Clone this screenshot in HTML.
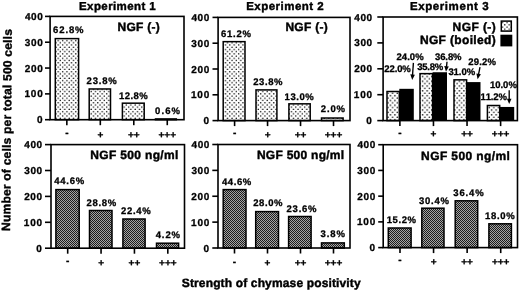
<!DOCTYPE html>
<html><head><meta charset="utf-8"><style>
html,body{margin:0;padding:0;background:#fff;}
svg{display:block;filter:grayscale(1) blur(0.25px);}
text{font-family:"Liberation Sans",sans-serif;font-weight:bold;fill:#000;text-rendering:geometricPrecision;font-kerning:none;stroke:#000;stroke-width:0.3px;}
text.big{stroke-width:0.42px;}
</style></head><body>
<svg width="520" height="291" viewBox="0 0 520 291">
<defs>
<pattern id="dots" patternUnits="userSpaceOnUse" width="4.4" height="4.44" x="2.1" y="1.67">
<rect width="4.4" height="4.44" fill="#fff"/>
<circle cx="1.1" cy="1.1" r="0.75" fill="#000"/><circle cx="3.3" cy="3.32" r="0.75" fill="#000"/>
</pattern>
<pattern id="dots3" patternUnits="userSpaceOnUse" width="4.6" height="4.8" x="0.5" y="0.8">
<rect width="4.6" height="4.8" fill="#fff"/>
<circle cx="1.15" cy="1.2" r="0.8" fill="#000"/><circle cx="3.45" cy="3.6" r="0.8" fill="#000"/>
</pattern>
<pattern id="dots2" patternUnits="userSpaceOnUse" width="4.4" height="4.4" x="501.5" y="21.5">
<rect width="4.4" height="4.4" fill="#fff"/>
<circle cx="1.1" cy="1.1" r="0.75" fill="#000"/><circle cx="3.3" cy="3.3" r="0.75" fill="#000"/>
</pattern>
<pattern id="dark" patternUnits="userSpaceOnUse" width="2" height="2">
<rect width="2" height="2" fill="#a4a4a4"/>
<rect width="1" height="1" fill="#1c1c1c"/><rect x="1" y="1" width="1" height="1" fill="#1c1c1c"/>
</pattern>
</defs>
<rect width="520" height="291" fill="#fff"/>
<rect x="55.30" y="38.61" width="23.30" height="81.09" fill="url(#dots)" stroke="#000" stroke-width="1.5"/>
<rect x="89.20" y="88.97" width="21.30" height="30.73" fill="url(#dots)" stroke="#000" stroke-width="1.5"/>
<rect x="122.40" y="103.17" width="21.80" height="16.53" fill="url(#dots)" stroke="#000" stroke-width="1.5"/>
<rect x="155.50" y="118.93" width="20.80" height="0.77" fill="url(#dots)" stroke="#000" stroke-width="1.5"/>
<rect x="50.10" y="16.40" width="133.90" height="103.30" fill="none" stroke="#000" stroke-width="1.6"/>
<line x1="45.00" y1="119.70" x2="50.10" y2="119.70" stroke="#000" stroke-width="1.6"/>
<line x1="45.00" y1="93.88" x2="50.10" y2="93.88" stroke="#000" stroke-width="1.6"/>
<line x1="45.00" y1="68.05" x2="50.10" y2="68.05" stroke="#000" stroke-width="1.6"/>
<line x1="45.00" y1="42.22" x2="50.10" y2="42.22" stroke="#000" stroke-width="1.6"/>
<line x1="45.00" y1="16.40" x2="50.10" y2="16.40" stroke="#000" stroke-width="1.6"/>
<line x1="66.84" y1="119.70" x2="66.84" y2="125.20" stroke="#000" stroke-width="1.6"/>
<line x1="100.31" y1="119.70" x2="100.31" y2="125.20" stroke="#000" stroke-width="1.6"/>
<line x1="133.79" y1="119.70" x2="133.79" y2="125.20" stroke="#000" stroke-width="1.6"/>
<line x1="167.26" y1="119.70" x2="167.26" y2="125.20" stroke="#000" stroke-width="1.6"/>
<rect x="223.20" y="41.65" width="21.80" height="78.95" fill="url(#dots)" stroke="#000" stroke-width="1.5"/>
<rect x="256.00" y="89.90" width="20.90" height="30.70" fill="url(#dots)" stroke="#000" stroke-width="1.5"/>
<rect x="288.90" y="103.83" width="21.30" height="16.77" fill="url(#dots)" stroke="#000" stroke-width="1.5"/>
<rect x="321.50" y="118.02" width="21.60" height="2.58" fill="url(#dots)" stroke="#000" stroke-width="1.5"/>
<rect x="218.10" y="17.40" width="131.90" height="103.20" fill="none" stroke="#000" stroke-width="1.6"/>
<line x1="212.50" y1="120.60" x2="218.10" y2="120.60" stroke="#000" stroke-width="1.6"/>
<line x1="212.50" y1="94.80" x2="218.10" y2="94.80" stroke="#000" stroke-width="1.6"/>
<line x1="212.50" y1="69.00" x2="218.10" y2="69.00" stroke="#000" stroke-width="1.6"/>
<line x1="212.50" y1="43.20" x2="218.10" y2="43.20" stroke="#000" stroke-width="1.6"/>
<line x1="212.50" y1="17.40" x2="218.10" y2="17.40" stroke="#000" stroke-width="1.6"/>
<line x1="234.59" y1="120.60" x2="234.59" y2="126.10" stroke="#000" stroke-width="1.6"/>
<line x1="267.56" y1="120.60" x2="267.56" y2="126.10" stroke="#000" stroke-width="1.6"/>
<line x1="300.54" y1="120.60" x2="300.54" y2="126.10" stroke="#000" stroke-width="1.6"/>
<line x1="333.51" y1="120.60" x2="333.51" y2="126.10" stroke="#000" stroke-width="1.6"/>
<rect x="387.00" y="91.51" width="12.30" height="29.09" fill="url(#dots3)" stroke="#000" stroke-width="1.5"/>
<rect x="399.30" y="88.82" width="14.50" height="31.78" fill="#000"/>
<rect x="420.00" y="73.64" width="12.60" height="46.96" fill="url(#dots3)" stroke="#000" stroke-width="1.5"/>
<rect x="432.60" y="72.24" width="14.40" height="48.36" fill="#000"/>
<rect x="454.00" y="79.85" width="12.60" height="40.75" fill="url(#dots3)" stroke="#000" stroke-width="1.5"/>
<rect x="466.60" y="82.09" width="13.90" height="38.51" fill="#000"/>
<rect x="487.40" y="105.50" width="12.30" height="15.10" fill="url(#dots3)" stroke="#000" stroke-width="1.5"/>
<rect x="499.70" y="106.95" width="14.50" height="13.65" fill="#000"/>
<rect x="383.10" y="17.00" width="134.30" height="103.60" fill="none" stroke="#000" stroke-width="1.6"/>
<line x1="377.30" y1="120.60" x2="383.10" y2="120.60" stroke="#000" stroke-width="1.6"/>
<line x1="377.30" y1="94.70" x2="383.10" y2="94.70" stroke="#000" stroke-width="1.6"/>
<line x1="377.30" y1="68.80" x2="383.10" y2="68.80" stroke="#000" stroke-width="1.6"/>
<line x1="377.30" y1="42.90" x2="383.10" y2="42.90" stroke="#000" stroke-width="1.6"/>
<line x1="377.30" y1="17.00" x2="383.10" y2="17.00" stroke="#000" stroke-width="1.6"/>
<line x1="399.89" y1="120.60" x2="399.89" y2="126.10" stroke="#000" stroke-width="1.6"/>
<line x1="433.46" y1="120.60" x2="433.46" y2="126.10" stroke="#000" stroke-width="1.6"/>
<line x1="467.04" y1="120.60" x2="467.04" y2="126.10" stroke="#000" stroke-width="1.6"/>
<line x1="500.61" y1="120.60" x2="500.61" y2="126.10" stroke="#000" stroke-width="1.6"/>
<rect x="55.90" y="189.60" width="23.30" height="58.60" fill="url(#dark)" stroke="#000" stroke-width="1.5"/>
<rect x="89.50" y="210.50" width="22.50" height="37.70" fill="url(#dark)" stroke="#000" stroke-width="1.5"/>
<rect x="122.90" y="219.00" width="22.20" height="29.20" fill="url(#dark)" stroke="#000" stroke-width="1.5"/>
<rect x="156.50" y="243.20" width="22.10" height="5.00" fill="url(#dark)" stroke="#000" stroke-width="1.5"/>
<rect x="51.00" y="144.60" width="133.50" height="103.60" fill="none" stroke="#000" stroke-width="1.6"/>
<line x1="45.00" y1="248.20" x2="51.00" y2="248.20" stroke="#000" stroke-width="1.6"/>
<line x1="45.00" y1="222.30" x2="51.00" y2="222.30" stroke="#000" stroke-width="1.6"/>
<line x1="45.00" y1="196.40" x2="51.00" y2="196.40" stroke="#000" stroke-width="1.6"/>
<line x1="45.00" y1="170.50" x2="51.00" y2="170.50" stroke="#000" stroke-width="1.6"/>
<line x1="45.00" y1="144.60" x2="51.00" y2="144.60" stroke="#000" stroke-width="1.6"/>
<line x1="67.69" y1="248.20" x2="67.69" y2="253.70" stroke="#000" stroke-width="1.6"/>
<line x1="101.06" y1="248.20" x2="101.06" y2="253.70" stroke="#000" stroke-width="1.6"/>
<line x1="134.44" y1="248.20" x2="134.44" y2="253.70" stroke="#000" stroke-width="1.6"/>
<line x1="167.81" y1="248.20" x2="167.81" y2="253.70" stroke="#000" stroke-width="1.6"/>
<rect x="223.20" y="189.60" width="22.80" height="58.40" fill="url(#dark)" stroke="#000" stroke-width="1.5"/>
<rect x="255.70" y="211.60" width="22.80" height="36.40" fill="url(#dark)" stroke="#000" stroke-width="1.5"/>
<rect x="288.60" y="216.50" width="22.50" height="31.50" fill="url(#dark)" stroke="#000" stroke-width="1.5"/>
<rect x="321.50" y="242.90" width="22.80" height="5.10" fill="url(#dark)" stroke="#000" stroke-width="1.5"/>
<rect x="218.00" y="144.50" width="132.00" height="103.50" fill="none" stroke="#000" stroke-width="1.6"/>
<line x1="212.30" y1="248.00" x2="218.00" y2="248.00" stroke="#000" stroke-width="1.6"/>
<line x1="212.30" y1="222.12" x2="218.00" y2="222.12" stroke="#000" stroke-width="1.6"/>
<line x1="212.30" y1="196.25" x2="218.00" y2="196.25" stroke="#000" stroke-width="1.6"/>
<line x1="212.30" y1="170.38" x2="218.00" y2="170.38" stroke="#000" stroke-width="1.6"/>
<line x1="212.30" y1="144.50" x2="218.00" y2="144.50" stroke="#000" stroke-width="1.6"/>
<line x1="234.50" y1="248.00" x2="234.50" y2="253.50" stroke="#000" stroke-width="1.6"/>
<line x1="267.50" y1="248.00" x2="267.50" y2="253.50" stroke="#000" stroke-width="1.6"/>
<line x1="300.50" y1="248.00" x2="300.50" y2="253.50" stroke="#000" stroke-width="1.6"/>
<line x1="333.50" y1="248.00" x2="333.50" y2="253.50" stroke="#000" stroke-width="1.6"/>
<rect x="388.30" y="228.00" width="22.80" height="19.60" fill="url(#dark)" stroke="#000" stroke-width="1.5"/>
<rect x="421.80" y="208.20" width="22.20" height="39.40" fill="url(#dark)" stroke="#000" stroke-width="1.5"/>
<rect x="455.20" y="200.80" width="22.50" height="46.80" fill="url(#dark)" stroke="#000" stroke-width="1.5"/>
<rect x="488.90" y="223.80" width="22.50" height="23.80" fill="url(#dark)" stroke="#000" stroke-width="1.5"/>
<rect x="383.20" y="144.70" width="134.30" height="102.90" fill="none" stroke="#000" stroke-width="1.6"/>
<line x1="378.20" y1="247.60" x2="383.20" y2="247.60" stroke="#000" stroke-width="1.6"/>
<line x1="378.20" y1="221.88" x2="383.20" y2="221.88" stroke="#000" stroke-width="1.6"/>
<line x1="378.20" y1="196.15" x2="383.20" y2="196.15" stroke="#000" stroke-width="1.6"/>
<line x1="378.20" y1="170.42" x2="383.20" y2="170.42" stroke="#000" stroke-width="1.6"/>
<line x1="378.20" y1="144.70" x2="383.20" y2="144.70" stroke="#000" stroke-width="1.6"/>
<line x1="399.99" y1="247.60" x2="399.99" y2="253.10" stroke="#000" stroke-width="1.6"/>
<line x1="433.56" y1="247.60" x2="433.56" y2="253.10" stroke="#000" stroke-width="1.6"/>
<line x1="467.14" y1="247.60" x2="467.14" y2="253.10" stroke="#000" stroke-width="1.6"/>
<line x1="500.71" y1="247.60" x2="500.71" y2="253.10" stroke="#000" stroke-width="1.6"/>
<line x1="413.40" y1="62.90" x2="412.55" y2="75.01" stroke="#000" stroke-width="1.35"/>
<polygon points="412.20,79.90 410.29,74.35 414.87,74.68" fill="#000"/>
<line x1="447.00" y1="61.80" x2="446.49" y2="66.82" stroke="#000" stroke-width="1.35"/>
<polygon points="446.00,71.70 444.25,66.10 448.83,66.56" fill="#000"/>
<line x1="480.00" y1="67.20" x2="478.56" y2="74.40" stroke="#000" stroke-width="1.35"/>
<polygon points="477.60,79.20 476.40,73.45 480.91,74.36" fill="#000"/>
<line x1="509.20" y1="90.30" x2="509.20" y2="99.20" stroke="#000" stroke-width="1.35"/>
<polygon points="509.20,104.10 506.90,98.70 511.50,98.70" fill="#000"/>
<rect x="501.3" y="21.1" width="10" height="10" fill="url(#dots2)" stroke="#000" stroke-width="1.5"/>
<rect x="500.4" y="34.7" width="11.9" height="11.7" fill="#000"/>
<text x="36.90" y="123.20" font-size="10.0" letter-spacing="0.000">0</text>
<text x="24.47" y="97.38" font-size="10.0" letter-spacing="0.778">100</text>
<text x="24.75" y="71.55" font-size="10.0" letter-spacing="0.636">200</text>
<text x="24.87" y="45.72" font-size="10.0" letter-spacing="0.578">300</text>
<text x="24.95" y="19.90" font-size="10.0" letter-spacing="0.538">400</text>
<text x="65.18" y="136.10" font-size="10" letter-spacing="0.000">-</text>
<text x="97.39" y="137.63" font-size="10" letter-spacing="0.000">+</text>
<text x="127.94" y="137.63" font-size="10" letter-spacing="0.000">++</text>
<text x="158.50" y="137.63" font-size="10" letter-spacing="0.000">+++</text>
<text x="203.40" y="124.10" font-size="10.0" letter-spacing="0.000">0</text>
<text x="190.97" y="98.30" font-size="10.0" letter-spacing="0.778">100</text>
<text x="191.25" y="72.50" font-size="10.0" letter-spacing="0.636">200</text>
<text x="191.37" y="46.70" font-size="10.0" letter-spacing="0.578">300</text>
<text x="191.45" y="20.90" font-size="10.0" letter-spacing="0.538">400</text>
<text x="232.93" y="136.30" font-size="10" letter-spacing="0.000">-</text>
<text x="264.64" y="137.58" font-size="10" letter-spacing="0.000">+</text>
<text x="294.69" y="137.58" font-size="10" letter-spacing="0.000">++</text>
<text x="324.75" y="137.58" font-size="10" letter-spacing="0.000">+++</text>
<text x="366.30" y="124.10" font-size="10.0" letter-spacing="0.000">0</text>
<text x="353.87" y="98.20" font-size="10.0" letter-spacing="0.778">100</text>
<text x="354.15" y="72.30" font-size="10.0" letter-spacing="0.636">200</text>
<text x="354.27" y="46.40" font-size="10.0" letter-spacing="0.578">300</text>
<text x="354.35" y="20.50" font-size="10.0" letter-spacing="0.538">400</text>
<text x="398.23" y="136.20" font-size="10" letter-spacing="0.000">-</text>
<text x="430.54" y="137.33" font-size="10" letter-spacing="0.000">+</text>
<text x="461.19" y="137.33" font-size="10" letter-spacing="0.000">++</text>
<text x="491.85" y="137.33" font-size="10" letter-spacing="0.000">+++</text>
<text x="36.30" y="251.70" font-size="10.0" letter-spacing="0.000">0</text>
<text x="23.87" y="225.80" font-size="10.0" letter-spacing="0.778">100</text>
<text x="24.15" y="199.90" font-size="10.0" letter-spacing="0.636">200</text>
<text x="24.27" y="174.00" font-size="10.0" letter-spacing="0.578">300</text>
<text x="24.35" y="148.10" font-size="10.0" letter-spacing="0.538">400</text>
<text x="66.03" y="264.40" font-size="10" letter-spacing="0.000">-</text>
<text x="98.14" y="265.98" font-size="10" letter-spacing="0.000">+</text>
<text x="128.59" y="265.98" font-size="10" letter-spacing="0.000">++</text>
<text x="159.05" y="265.98" font-size="10" letter-spacing="0.000">+++</text>
<text x="203.50" y="251.50" font-size="10.0" letter-spacing="0.000">0</text>
<text x="191.07" y="225.62" font-size="10.0" letter-spacing="0.778">100</text>
<text x="191.35" y="199.75" font-size="10.0" letter-spacing="0.636">200</text>
<text x="191.47" y="173.88" font-size="10.0" letter-spacing="0.578">300</text>
<text x="191.55" y="148.00" font-size="10.0" letter-spacing="0.538">400</text>
<text x="232.84" y="264.95" font-size="10" letter-spacing="0.000">-</text>
<text x="264.57" y="266.13" font-size="10" letter-spacing="0.000">+</text>
<text x="294.65" y="266.13" font-size="10" letter-spacing="0.000">++</text>
<text x="324.73" y="266.13" font-size="10" letter-spacing="0.000">+++</text>
<text x="369.40" y="251.10" font-size="10.0" letter-spacing="0.000">0</text>
<text x="356.97" y="225.38" font-size="10.0" letter-spacing="0.778">100</text>
<text x="357.25" y="199.65" font-size="10.0" letter-spacing="0.636">200</text>
<text x="357.37" y="173.92" font-size="10.0" letter-spacing="0.578">300</text>
<text x="357.45" y="148.20" font-size="10.0" letter-spacing="0.538">400</text>
<text x="398.33" y="263.00" font-size="10" letter-spacing="0.000">-</text>
<text x="430.64" y="264.53" font-size="10" letter-spacing="0.000">+</text>
<text x="461.29" y="264.53" font-size="10" letter-spacing="0.000">++</text>
<text x="491.95" y="264.53" font-size="10" letter-spacing="0.000">+++</text>
<text x="79.03" y="9.50" font-size="11.5" letter-spacing="0.406" class="big">Experiment 1</text>
<text x="246.13" y="10.00" font-size="11.5" letter-spacing="0.492" class="big">Experiment 2</text>
<text x="409.93" y="9.90" font-size="11.5" letter-spacing="0.587" class="big">Experiment 3</text>
<text x="117.50" y="31.05" font-size="12.0" letter-spacing="0.258" class="big">NGF (-)</text>
<text x="285.40" y="30.80" font-size="12.0" letter-spacing="0.291" class="big">NGF (-)</text>
<text x="452.60" y="30.70" font-size="12.0" letter-spacing="0.408" class="big">NGF (-)</text>
<text x="419.90" y="43.80" font-size="12.0" letter-spacing="0.347" class="big">NGF (boiled)</text>
<text x="90.20" y="159.40" font-size="12.0" letter-spacing="0.345" class="big">NGF 500 ng/ml</text>
<text x="256.90" y="159.40" font-size="12.0" letter-spacing="0.270" class="big">NGF 500 ng/ml</text>
<text x="421.10" y="159.80" font-size="12.0" letter-spacing="0.395" class="big">NGF 500 ng/ml</text>
<text x="181.75" y="286.80" font-size="12.0" letter-spacing="0.145" class="big">Strength of chymase positivity</text>
<text x="53.05" y="33.30" font-size="9.5" letter-spacing="0.890">62.8%</text>
<text x="86.57" y="84.20" font-size="9.5" letter-spacing="0.811">23.8%</text>
<text x="118.90" y="98.50" font-size="9.5" letter-spacing="0.478">12.8%</text>
<text x="155.12" y="114.20" font-size="9.5" letter-spacing="1.091">0.6%</text>
<text x="221.05" y="36.50" font-size="9.5" letter-spacing="0.715">61.2%</text>
<text x="253.17" y="85.10" font-size="9.5" letter-spacing="0.611">23.8%</text>
<text x="284.60" y="99.50" font-size="9.5" letter-spacing="0.553">13.0%</text>
<text x="320.87" y="112.40" font-size="9.5" letter-spacing="0.842">2.0%</text>
<text x="396.47" y="59.70" font-size="9.5" letter-spacing="0.061">24.0%</text>
<text x="384.37" y="72.10" font-size="9.5" letter-spacing="-0.139">22.0%</text>
<text x="417.18" y="70.00" font-size="9.5" letter-spacing="-0.217">35.8%</text>
<text x="434.98" y="59.50" font-size="9.5" letter-spacing="-0.092">36.8%</text>
<text x="448.38" y="74.60" font-size="9.5" letter-spacing="-0.042">31.0%</text>
<text x="468.37" y="65.20" font-size="9.5" letter-spacing="0.161">29.2%</text>
<text x="480.50" y="99.90" font-size="9.5" letter-spacing="-0.147">11.2%</text>
<text x="489.90" y="87.60" font-size="9.5" letter-spacing="0.003">10.0%</text>
<text x="54.36" y="184.40" font-size="9.5" letter-spacing="0.714">44.6%</text>
<text x="86.57" y="205.80" font-size="9.5" letter-spacing="0.686">28.8%</text>
<text x="121.07" y="214.20" font-size="9.5" letter-spacing="0.661">22.4%</text>
<text x="155.66" y="238.40" font-size="9.5" letter-spacing="0.914">4.2%</text>
<text x="221.96" y="184.80" font-size="9.5" letter-spacing="0.589">44.6%</text>
<text x="253.17" y="206.20" font-size="9.5" letter-spacing="0.611">28.0%</text>
<text x="286.57" y="212.00" font-size="9.5" letter-spacing="0.761">23.6%</text>
<text x="320.58" y="237.40" font-size="9.5" letter-spacing="0.872">3.8%</text>
<text x="386.70" y="223.00" font-size="9.5" letter-spacing="0.603">15.2%</text>
<text x="419.08" y="203.60" font-size="9.5" letter-spacing="0.733">30.4%</text>
<text x="453.28" y="195.90" font-size="9.5" letter-spacing="0.883">36.4%</text>
<text x="485.10" y="218.50" font-size="9.5" letter-spacing="0.653">18.0%</text>
<text class="big" x="-101.05" y="0" font-size="12.0" letter-spacing="0.227" transform="translate(11.0,129.9) rotate(-89.5)">Number of cells per total 500 cells</text>
</svg>
</body></html>
